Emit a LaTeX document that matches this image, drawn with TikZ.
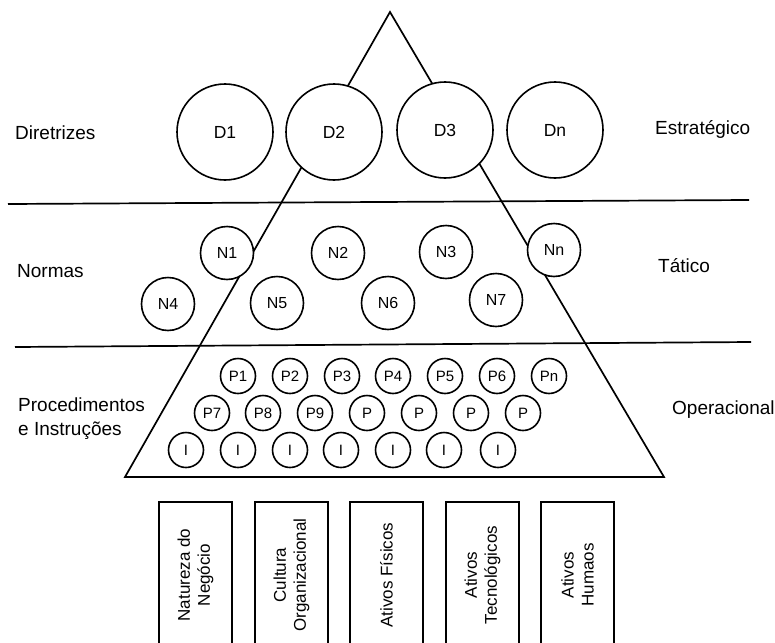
\documentclass[tikz,border=0pt]{standalone}
\usepackage{fontspec}
\setmainfont{Liberation Sans}
\begin{document}
\begin{tikzpicture}[x=1pt,y=-1pt,
  ln/.style={line width=1.7pt},
  circ/.style={circle,draw,line width=1.6pt,fill=white,inner sep=0pt},
  dc/.style={circ,minimum size=96pt,font=\fontsize{17.5}{19}\selectfont},
  nc/.style={circ,minimum size=53pt,font=\fontsize{16}{18}\selectfont},
  pc/.style={circ,minimum size=35pt,font=\fontsize{15}{17}\selectfont},
  lbl/.style={anchor=west,inner sep=0pt,font=\fontsize{19}{24}\selectfont,align=left},
  boxn/.style={draw,line width=1.7pt,rotate=90,minimum width=146pt,minimum height=73pt,inner sep=0pt,align=center,font=\fontsize{17}{20}\selectfont}
]
\useasboundingbox (0,0) rectangle (775,642);
% pyramid
\coordinate (apex) at (390,12);
\coordinate (bl) at (125,477);
\coordinate (br) at (664,477);
\draw[ln] (apex) -- (bl) -- (br) -- cycle;
% separator lines
\coordinate (l1a) at (8,204);
\coordinate (l1b) at (749,200);
\coordinate (l2a) at (15,347);
\coordinate (l2b) at (751,342);
\draw[ln] (l1a) -- (l1b);
\draw[ln] (l2a) -- (l2b);
% strategic
\node[dc] (D1) at (225,132) {D1};
\node[dc] (D2) at (334,132) {D2};
\node[dc] (D3) at (445,130) {D3};
\node[dc] (Dn) at (555,130) {Dn};
% tactical
\node[nc] (N1) at (227,253) {N1};
\node[nc] (N2) at (338,253) {N2};
\node[nc] (N3) at (446,252) {N3};
\node[nc] (Nn) at (554,250) {Nn};
\node[nc] (N4) at (168,304) {N4};
\node[nc] (N5) at (277,303) {N5};
\node[nc] (N6) at (388,303) {N6};
\node[nc] (N7) at (496,300) {N7};
% operational
\node[pc] (P1) at (238,376) {P1};
\node[pc] (P2) at (290,376) {P2};
\node[pc] (P3) at (342,376) {P3};
\node[pc] (P4) at (393,376) {P4};
\node[pc] (P5) at (445,376) {P5};
\node[pc] (P6) at (497,376) {P6};
\node[pc] (Pn) at (549,376) {Pn};
\node[pc] (P7) at (212,413) {P7};
\node[pc] (P8) at (263,413) {P8};
\node[pc] (P9) at (315,413) {P9};
\node[pc] (Pa) at (367,413) {P};
\node[pc] (Pb) at (419,413) {P};
\node[pc] (Pc) at (471,413) {P};
\node[pc] (Pd) at (523,413) {P};
\node[pc] (I1) at (186,450) {I};
\node[pc] (I2) at (238,450) {I};
\node[pc] (I3) at (290,450) {I};
\node[pc] (I4) at (341,450) {I};
\node[pc] (I5) at (393,450) {I};
\node[pc] (I6) at (444,450) {I};
\node[pc] (I7) at (498,450) {I};
% side labels
\node[lbl] (dir) at (15,133) {Diretrizes};
\node[lbl] (est) at (655,129) {Estratégico};
\node[lbl] (nor) at (17,271) {Normas};
\node[lbl] (tat) at (658,266) {Tático};
\node[lbl] (pro) at (18,419) {Procedimentos\\e Instruções};
\node[lbl] (ope) at (672,410) {Operacional};
% bottom boxes
\node[boxn] (B1) at (195.5,575) {Natureza do\\Negócio};
\node[boxn] (B2) at (291.5,575) {Cultura\\Organizacional};
\node[boxn] (B3) at (386.5,575) {Ativos Físicos};
\node[boxn] (B4) at (482.5,575) {Ativos\\Tecnológicos};
\node[boxn] (B5) at (577.5,575) {Ativos\\Humaos};
\end{tikzpicture}
\end{document}
